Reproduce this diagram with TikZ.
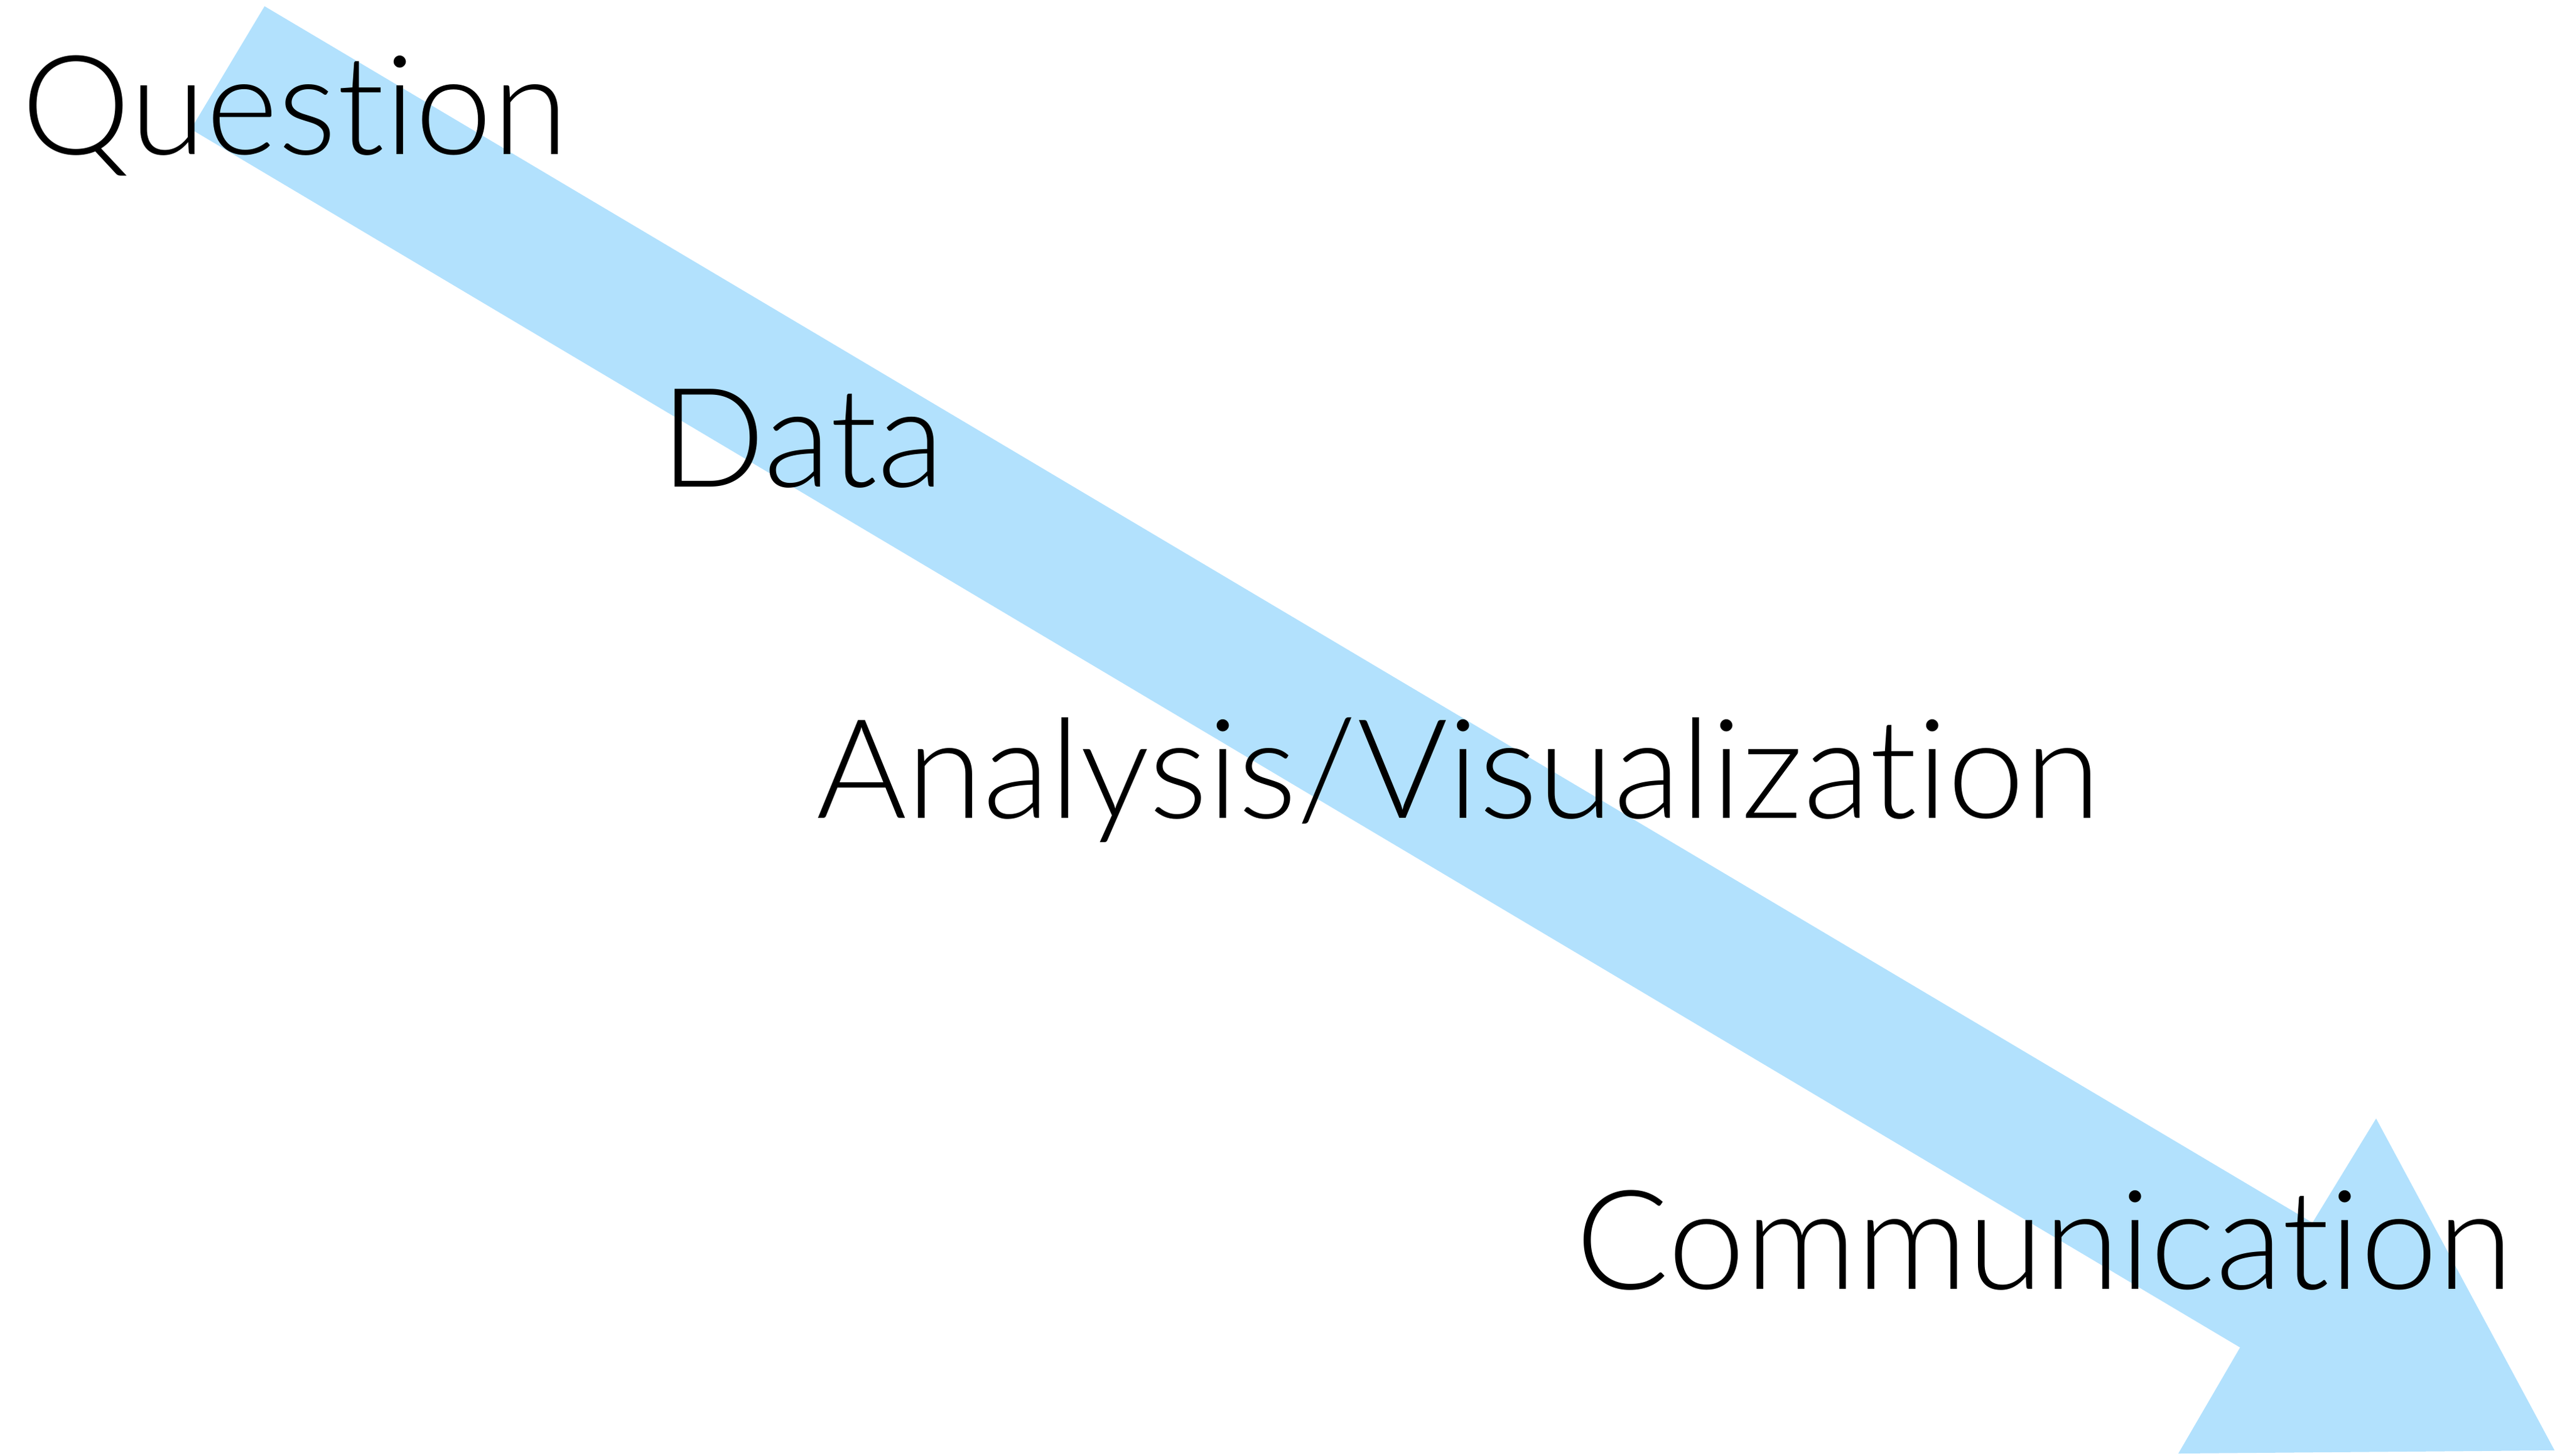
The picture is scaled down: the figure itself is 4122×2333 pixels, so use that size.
\documentclass[tikz,border=0pt]{standalone}
\usepackage{fontspec}
\newfontfamily\stagefont{Lato Light}[Ligatures=NoCommon]
\definecolor{flowblue}{RGB}{178,225,253}

\begin{document}
\begin{tikzpicture}[x=0.01cm,y=-0.01cm]
        \tikzstyle{flow}=[fill=flowblue]
        \tikzstyle{every node}=[anchor=base west,inner sep=0pt,font=\stagefont\fontsize{63}{70}\selectfont]
        \useasboundingbox (0,0) rectangle (4122,2333);
        \fill[flow] (424,10) -- (3706,1960) -- (3808,1793) -- (4094,2325)
            -- (3491,2330) -- (3590,2160) -- (306,207) -- cycle;
        \node (question) at (34,247) {Question};
        \node (data) at (1058,780) {Data};
        \node (analysis) at (1308,1311) {Analysis/Visualization};
        \node (communication) at (2525,2066) {Communication};
\end{tikzpicture}
\end{document}
